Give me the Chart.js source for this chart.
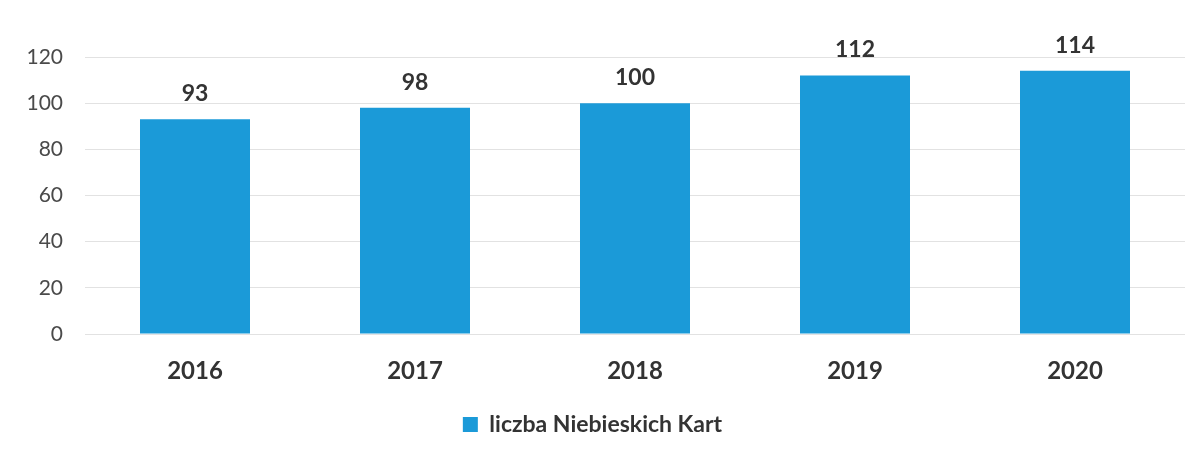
<!DOCTYPE html>
<html>
<head>
<meta charset="utf-8">
<script src="https://cdn.jsdelivr.net/npm/chart.js@4/dist/chart.umd.min.js"></script>
<style>
html,body{margin:0;padding:0;background:#fff;}
#wrap{width:1204px;height:464px;position:relative;}
</style>
</head>
<body>
<div id="wrap"><canvas id="c" width="1204" height="464"></canvas></div>
<script>
const categories = ['2016', '2017', '2018', '2019', '2020'];
const values = [93, 98, 100, 112, 114];
const seriesName = 'liczba Niebieskich Kart';
const yTicks = [0, 20, 40, 60, 80, 100, 120];

const FONT = "Lato, 'Open Sans', sans-serif";

const valueLabels = {
  id: 'valueLabels',
  afterDatasetsDraw(chart) {
    const ctx = chart.ctx;
    const meta = chart.getDatasetMeta(0);
    ctx.save();
    ctx.font = `bold 23px ${FONT}`;
    ctx.fillStyle = '#333333';
    ctx.textAlign = 'center';
    ctx.textBaseline = 'bottom';
    meta.data.forEach((bar, i) => {
      ctx.fillText(String(chart.data.datasets[0].data[i]), bar.x, bar.y - 14);
    });
    ctx.restore();
  }
};

new Chart(document.getElementById('c'), {
  type: 'bar',
  data: {
    labels: categories,
    datasets: [{
      label: seriesName,
      data: values,
      backgroundColor: '#1b9ad8',
      borderWidth: 0,
      categoryPercentage: 0.5,
      barPercentage: 1.0
    }]
  },
  options: {
    responsive: false,
    animation: false,
    devicePixelRatio: 1,
    layout: { padding: { left: 0, right: 19, top: 57, bottom: 18 } },
    plugins: {
      legend: {
        position: 'bottom',
        labels: {
          font: { family: FONT, size: 23, weight: 'bold' },
          color: '#333333',
          boxWidth: 15,
          boxHeight: 15,
          padding: 10
        }
      },
      tooltip: { enabled: false }
    },
    scales: {
      x: {
        grid: { display: false },
        border: { display: false },
        ticks: {
          font: { family: FONT, size: 24, weight: 'bold' },
          color: '#333333',
          padding: 15
        },
        afterFit(s) { s.height = 69; }
      },
      y: {
        min: 0,
        max: 120,
        afterBuildTicks(s) { s.ticks = yTicks.map(v => ({ value: v })); },
        grid: { color: '#e2e2e2', lineWidth: 1, drawTicks: false },
        border: { display: false },
        ticks: {
          font: { family: FONT, size: 21 },
          color: '#4a4a4a',
          padding: 22
        },
        afterFit(s) { s.width = 85; }
      }
    }
  },
  plugins: [valueLabels]
});
</script>
</body>
</html>
